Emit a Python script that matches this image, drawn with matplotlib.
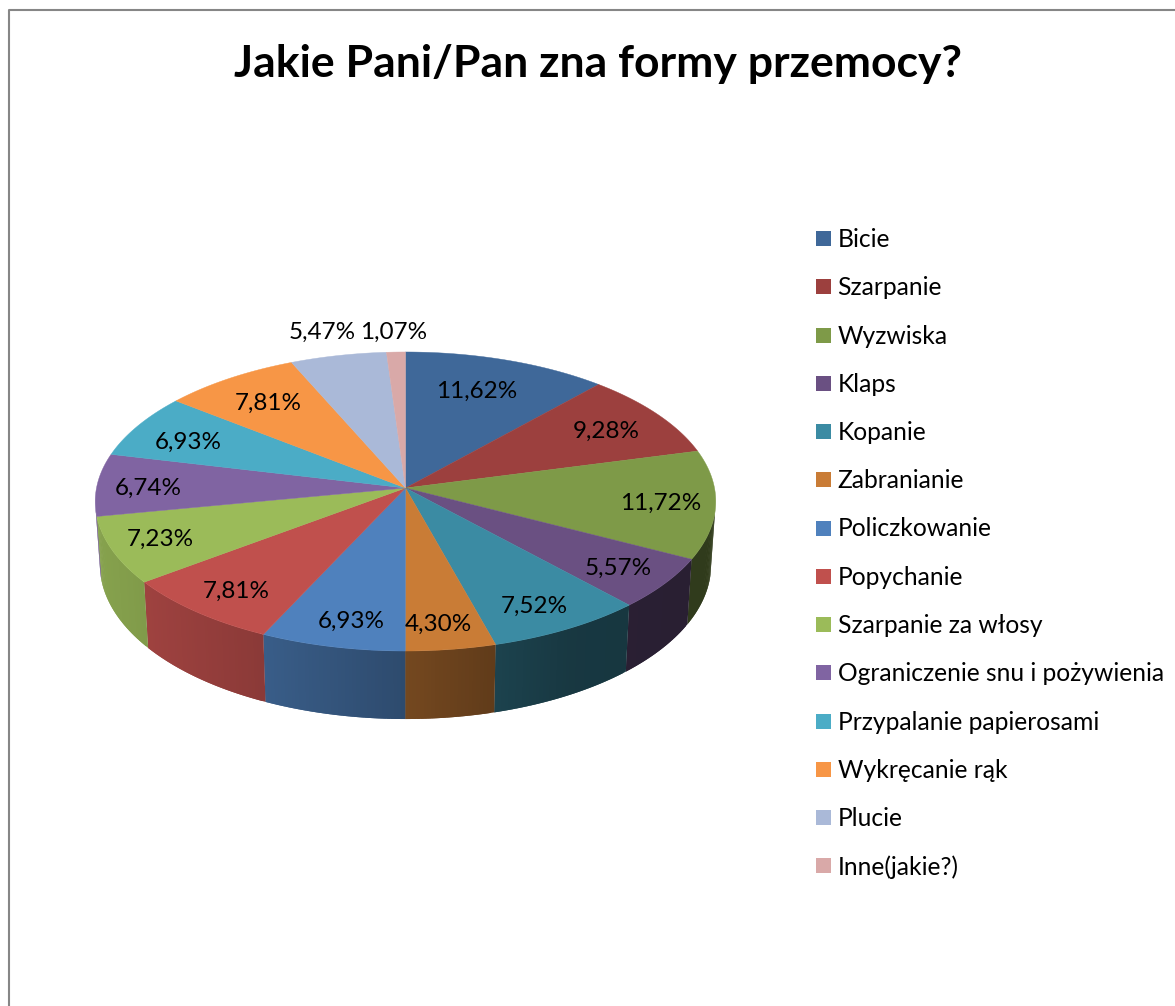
import numpy as np
import matplotlib
matplotlib.use('Agg')
import matplotlib.pyplot as plt
from matplotlib.patches import Rectangle

plt.rcParams['font.family'] = ['Lato', 'DejaVu Sans']

# Chart data
TITLE = 'Jakie Pani/Pan zna formy przemocy?'
categories = ['Bicie', 'Szarpanie', 'Wyzwiska', 'Klaps', 'Kopanie', 'Zabranianie',
              'Policzkowanie', 'Popychanie', 'Szarpanie za włosy',
              'Ograniczenie snu i pożywienia', 'Przypalanie papierosami',
              'Wykręcanie rąk', 'Plucie', 'Inne(jakie?)']
values = [11.62, 9.28, 11.72, 5.57, 7.52, 4.30, 6.93, 7.81, 7.23, 6.74, 6.93, 7.81, 5.47, 1.07]
colors = ['#3F6899', '#9C403E', '#7E9A48', '#6A5082', '#3B8BA3', '#C97C36', '#4F81BD',
          '#C0504D', '#9BBB59', '#8064A2', '#4BACC6', '#F79646', '#AAB9D8', '#D9A9A8']

# Label centres in pixels, same order as values
label_x = [477, 606.5, 661, 618, 534, 438, 351, 236.5, 160, 148, 188, 268, 322, 394]
label_y = [391, 431.5, 503, 568, 606, 624, 621, 591, 539, 488, 442, 403, 332, 332]

# Pie geometry (pixels), the disc is drawn with a perspective foreshortening
CX, CY = 405.5, 488
RX, RY = 309, 148.3
PERSP = 0.0903

# Wall shading by horizontal position on the rim
SHADE_X = [-1, -0.85, -0.45, 0, 0.29, 0.5, 1]
SHADE_F = [0.87, 0.84, 0.73, 0.58, 0.47, 0.40, 0.38]


def rim(theta):
    d = 1 + PERSP * np.sin(theta)
    return CX + RX * np.cos(theta) / d, CY - RY * np.sin(theta) / d


def rim_bottom(theta):
    x, y = rim(theta)
    return CX + (x - CX) * 0.985, CY + (y - CY) * 1.032 + 62.8


def draw_walls(ax, starts, ends):
    for a, b, col in zip(starts, ends, colors):
        base = np.array(matplotlib.colors.to_rgb(col))
        n = max(int(abs(b - a) * 90), 2)
        th = np.linspace(a, b, n + 1)
        step = th[1] - th[0]
        for t0, t1 in zip(th[:-1], th[1:]):
            tm = (t0 + t1) / 2
            if np.sin(tm) > -0.15:
                continue
            # each strip runs on under the next one so no seams show
            t2 = t1 + step if t1 != th[-1] else t1
            x0, y0 = rim(t0)
            x1, y1 = rim(t2)
            x2, y2 = rim_bottom(t2)
            x3, y3 = rim_bottom(t0)
            f = np.interp(np.cos(tm), SHADE_X, SHADE_F)
            c = np.clip(base * f, 0, 1)
            ax.fill([x0, x1, x2, x3], [y0, y1, y2, y3], color=c, lw=0, zorder=2)


def draw_top(ax, starts, ends):
    for a, b, col in zip(starts, ends, colors):
        th = np.linspace(a, b, 80)
        x, y = rim(th)
        ax.fill(np.r_[CX, x], np.r_[CY, y], color=col, lw=0.3, zorder=3)


def main():
    fig = plt.figure(figsize=(11.75, 10.06), dpi=100)
    ax = fig.add_axes([0, 0, 1, 1])
    ax.set_xlim(0, 1175)
    ax.set_ylim(1006, 0)
    ax.axis('off')

    # frame of the chart, runs off the picture at right and bottom
    ax.plot([9, 9, 1175], [1006, 10, 10], color='#868686', lw=1.5, zorder=1)

    ax.text(598, 64, TITLE, ha='center', va='center', fontsize=32, fontweight='bold', color='black')

    # clockwise from the top
    cum = np.cumsum([0] + values) / sum(values)
    angles = np.pi / 2 - 2 * np.pi * cum
    draw_walls(ax, angles[:-1], angles[1:])
    draw_top(ax, angles[:-1], angles[1:])

    for v, x, y in zip(values, label_x, label_y):
        ax.text(x, y, f'{v:.2f}%'.replace('.', ','), ha='center', va='center',
                fontsize=17.5, color='black', zorder=4)

    # legend
    for i, (name, col) in enumerate(zip(categories, colors)):
        y = 238.5 + i * 48.25
        ax.add_patch(Rectangle((816, y - 7.5), 15, 15, color=col, lw=0, zorder=3))
        ax.text(837.5, y + 1, name, ha='left', va='center', fontsize=17.7, color='black')

    fig.savefig('out.png', dpi=100)
    plt.close(fig)


if __name__ == '__main__':
    main()
